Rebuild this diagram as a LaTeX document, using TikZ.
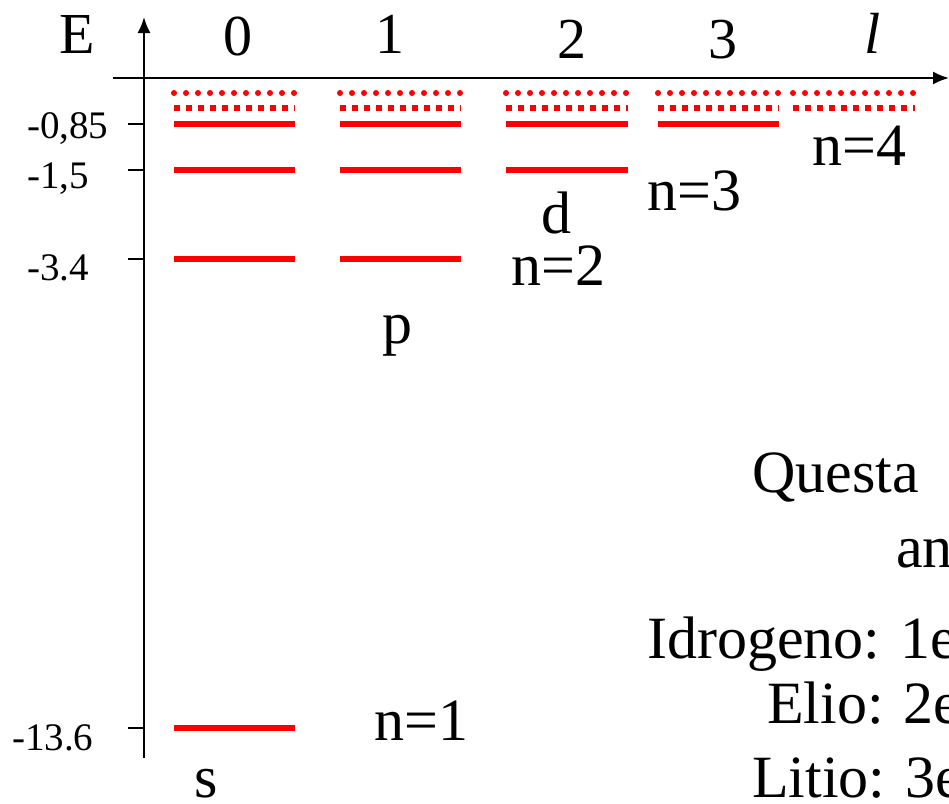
\documentclass[tikz,border=0pt]{standalone}
\usepackage{fontspec}
\setmainfont{Liberation Serif}
\usetikzlibrary{arrows.meta}
\begin{document}
\begin{tikzpicture}[x=1pt,y=-1pt,
  lvl/.style={red, line width=6pt},
  dotrow/.style={red, line width=6pt, line cap=round, dash pattern=on 0pt off 12pt},
  sqrow/.style={red, line width=6pt, dash pattern=on 6pt off 6pt},
  axis/.style={line width=2pt, -{Latex[length=16pt,width=13pt]}},
  tickmark/.style={line width=2pt},
  big/.style={font=\fontsize{58}{60}\selectfont, inner sep=0pt},
  ticklab/.style={font=\fontsize{39}{40}\selectfont, inner sep=0pt, anchor=base west},
  note/.style={font=\fontsize{60}{62}\selectfont, inner sep=0pt, anchor=base west},
]
\useasboundingbox (0,0) rectangle (949,803);
\clip (0,0) rectangle (949,803);
% axes
\coordinate (vb) at (144,758);
\coordinate (vt) at (144,17);
\coordinate (hl) at (113,78);
\coordinate (hr) at (949,78);
\draw[axis] (vb) -- (vt);
\draw[axis] (hl) -- (hr);
% ticks
\foreach \y/\nm in {124/t1,170/t2,259/t3,728/t4}{
  \coordinate (\nm a) at (128,\y); \coordinate (\nm b) at (144,\y);
  \draw[tickmark] (\nm a) -- (\nm b);
}
\node[ticklab] (l085) at (27,138) {-0,85};
\node[ticklab] (l15) at (27,188) {-1,5};
\node[ticklab] (l34) at (27,280) {-3.4};
\node[ticklab] (l136) at (12,750) {-13.6};
% top labels
\node[big, anchor=base] (E) at (77,53) {E};
\node[big, anchor=base] (c0) at (238,55) {0};
\node[big, anchor=base] (c1) at (390,53) {1};
\node[big, anchor=base] (c2) at (572,58) {2};
\node[big, anchor=base] (c3) at (723,58) {3};
\node[big, anchor=base] (cl) at (873,53) {\itshape l};
% levels
\foreach \xa/\xb in {174/295,340/461,506/628,658/779,793/915}{
  \draw[dotrow] (\xa,93) -- (\xb,93);
  \draw[sqrow] (\xa,108) -- (\xb,108);
}
\foreach \xa/\xb in {174/295,340/461,506/628,658/779}{
  \draw[lvl] (\xa,124) -- (\xb,124);
}
\foreach \xa/\xb in {174/295,340/461,506/628}{
  \draw[lvl] (\xa,170) -- (\xb,170);
}
\foreach \xa/\xb in {174/295,340/461}{
  \draw[lvl] (\xa,259) -- (\xb,259);
}
\draw[lvl] (174,728) -- (295,728);
% level labels
\node[note] (n4) at (812,165) {n=4};
\node[note] (n3) at (647,210) {n=3};
\node[note] (d) at (541,233) {d};
\node[note] (n2) at (511,285) {n=2};
\node[note] (p) at (382,343) {p};
\node[note] (n1) at (374,740) {n=1};
\node[note] (s) at (194,797) {s};
% right text
\node[note] (q1) at (752,492) {Questa};
\node[note] (q2) at (896,567) {an};
\node[note] (q3) at (647,658) {Idrogeno: 1e};
\node[note] (q4) at (767,723) {Elio: 2e};
\node[note] (q5) at (752,797) {Litio: 3e};
\end{tikzpicture}
\end{document}
